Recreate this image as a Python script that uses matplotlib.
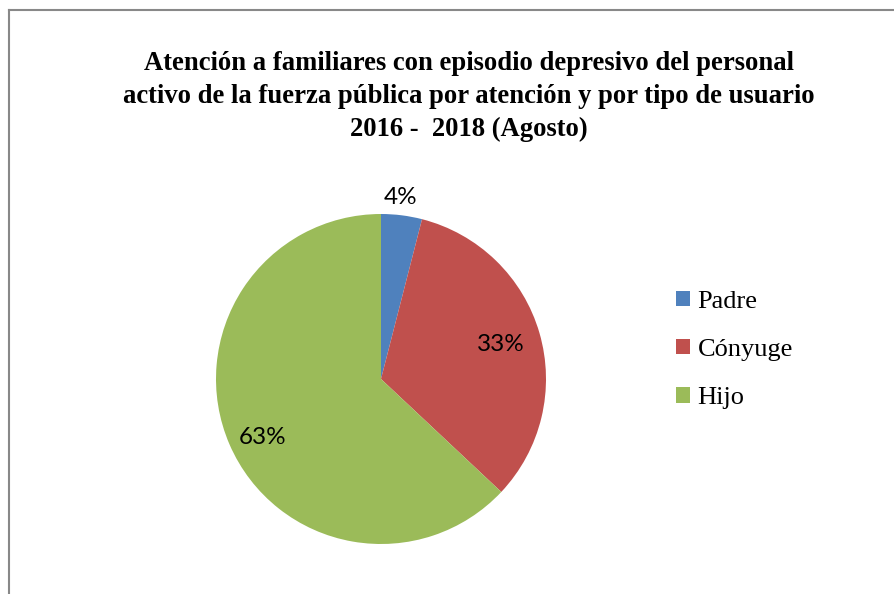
import matplotlib
matplotlib.use("Agg")
import matplotlib.pyplot as plt
from matplotlib.lines import Line2D
from matplotlib.patches import Patch

categories = ["Padre", "Cónyuge", "Hijo"]
shares = [4, 33, 63]
pct_labels = ["4%", "33%", "63%"]
colors = ["#4F81BD", "#C0504D", "#9BBB59"]
title = ("Atención a familiares con episodio depresivo del personal\n"
         "activo de la fuerza pública por atención y por tipo de usuario\n"
         "2016 -  2018 (Agosto)")

# label spots (data units, pie radius = 1), placed like the original
label_pos = [(0.12, 1.10), (0.727, 0.212), (-0.715, -0.352)]

W, H = 894, 594
fig = plt.figure(figsize=(W / 100, H / 100), dpi=100)
fig.patch.set_facecolor("white")

# pie axes: centre (381, 379) px, radius 165 px
cx, cy, r = 381, 379, 165
ax = fig.add_axes([(cx - r) / W, (H - cy - r) / H, 2 * r / W, 2 * r / H])
wedges, _ = ax.pie(shares, colors=colors, startangle=90, counterclock=False,
                   radius=1, wedgeprops=dict(linewidth=0))
ax.set_xlim(-1, 1); ax.set_ylim(-1, 1)
ax.set_aspect("equal")
ax.axis("off")

for txt, (x, y) in zip(pct_labels, label_pos):
    ax.text(x, y, txt, ha="center", va="center", fontsize=17.5,
            family="Lato", color="black", clip_on=False)

fig.text(469 / W, 1 - 51 / H, title, ha="center", va="top",
         family="Liberation Serif", weight="bold", fontsize=19.2,
         linespacing=1.42)

handles = [Patch(facecolor=c, edgecolor="none") for c in colors]
fig.legend(handles, categories, loc="center left",
           bbox_to_anchor=(676 / W, 1 - 350 / H), frameon=False,
           prop=dict(family="Liberation Serif", size=19),
           handlelength=0.52, handleheight=0.52, handletextpad=0.3,
           labelspacing=1.0, borderpad=0, borderaxespad=0)

# outer chart frame (only top and left edges visible in the crop)
fig.add_artist(Line2D([9 / W, 1], [1 - 10 / H, 1 - 10 / H],
                      transform=fig.transFigure, color="#888888", lw=1.5))
fig.add_artist(Line2D([9 / W, 9 / W], [1 - 10 / H, 0],
                      transform=fig.transFigure, color="#888888", lw=1.5))

fig.savefig("out.png", dpi=100, facecolor="white")
